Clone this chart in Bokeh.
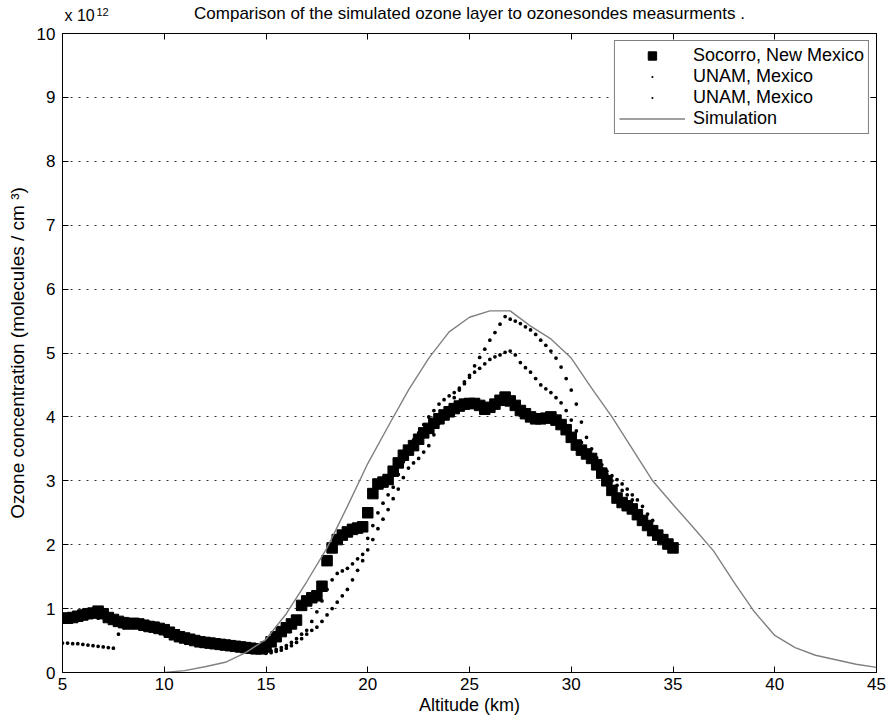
from bokeh.plotting import figure
from bokeh.layouts import column
from bokeh.models import (ColumnDataSource, LinearAxis, FixedTicker, Label,
                          Legend, LegendItem, Range1d)
from bokeh.embed import file_html
from bokeh.resources import INLINE

# ---------------- data ----------------
sim_alt = [10, 11, 12, 13, 14, 15, 16, 17, 18, 19, 20, 21, 22, 23, 24, 25, 26, 27,
           28, 29, 30, 31, 32, 33, 34, 35, 36, 37, 38, 39, 40, 41, 42, 43, 44, 45]
sim_o3 = [0.0, 0.03, 0.09, 0.16, 0.31, 0.52, 0.92, 1.42, 1.95, 2.6, 3.27, 3.85,
          4.42, 4.92, 5.33, 5.56, 5.66, 5.66, 5.42, 5.22, 4.92, 4.45, 4.0, 3.5,
          3.0, 2.63, 2.27, 1.9, 1.41, 0.95, 0.58, 0.39, 0.27, 0.2, 0.13, 0.08]

soc_alt = [5.0, 5.25, 5.5, 5.75, 6.0, 6.25, 6.5, 6.75, 7.0, 7.25, 7.5, 7.75,
           8.0, 8.25, 8.5, 8.75, 9.0, 9.25, 9.5, 9.75, 10.0, 10.25, 10.5, 10.75,
           11.0, 11.25, 11.5, 11.75, 12.0, 12.25, 12.5, 12.75, 13.0, 13.25, 13.5, 13.75,
           14.0, 14.25, 14.5, 14.75, 15.0, 15.25, 15.5, 15.75, 16.0, 16.25, 16.5, 16.75,
           17.0, 17.25, 17.5, 17.75, 18.0, 18.25, 18.5, 18.75, 19.0, 19.25, 19.5, 19.75,
           20.0, 20.25, 20.5, 20.75, 21.0, 21.25, 21.5, 21.75, 22.0, 22.25, 22.5, 22.75,
           23.0, 23.25, 23.5, 23.75, 24.0, 24.25, 24.5, 24.75, 25.0, 25.25, 25.5, 25.75,
           26.0, 26.25, 26.5, 26.75, 27.0, 27.25, 27.5, 27.75, 28.0, 28.25, 28.5, 28.75,
           29.0, 29.25, 29.5, 29.75, 30.0, 30.25, 30.5, 30.75, 31.0, 31.25, 31.5, 31.75,
           32.0, 32.25, 32.5, 32.75, 33.0, 33.25, 33.5, 33.75, 34.0, 34.25, 34.5, 34.75,
           35.0]
soc_o3 = [0.85, 0.85, 0.86, 0.88, 0.90, 0.92, 0.93, 0.96, 0.92, 0.86, 0.83, 0.80,
          0.78, 0.76, 0.77, 0.76, 0.74, 0.72, 0.71, 0.69, 0.67, 0.63, 0.59, 0.56,
          0.54, 0.52, 0.50, 0.48, 0.47, 0.46, 0.45, 0.44, 0.43, 0.42, 0.41, 0.40,
          0.39, 0.38, 0.37, 0.37, 0.40, 0.48, 0.56, 0.64, 0.70, 0.76, 0.82, 1.05,
          1.12, 1.17, 1.20, 1.35, 1.75, 1.95, 2.08, 2.15, 2.20, 2.24, 2.26, 2.28,
          2.50, 2.80, 2.95, 2.98, 3.02, 3.15, 3.28, 3.40, 3.48, 3.55, 3.65, 3.75,
          3.82, 3.90, 3.97, 4.03, 4.08, 4.13, 4.17, 4.20, 4.21, 4.21, 4.18, 4.12,
          4.15, 4.20, 4.26, 4.31, 4.25, 4.18, 4.10, 4.05, 4.00, 3.97, 3.97, 3.98,
          4.00, 3.95, 3.88, 3.80, 3.68, 3.56, 3.48, 3.42, 3.35, 3.25, 3.12, 3.00,
          2.85, 2.73, 2.66, 2.61, 2.56, 2.47, 2.38, 2.30, 2.22, 2.15, 2.08, 2.01,
          1.95]

unam1_alt = [5.0, 5.5, 6.0, 6.5, 6.75, 7.0, 7.5, 8.0, 8.5, 9.0, 9.5, 10.0, 10.5,
             11.0, 11.5, 12.0, 12.5, 13.0, 13.5, 14.0, 14.5, 15.0, 15.25, 15.5, 15.75,
             16.0, 16.25, 16.5, 16.75, 17.0, 17.25, 17.5, 17.75, 18.0, 18.25, 18.5, 18.75,
             19.0, 19.25, 19.5, 19.75, 20.0, 20.25, 20.5, 20.75, 21.0, 21.25, 21.5, 21.75,
             22.0, 22.25, 22.5, 22.75, 23.0, 23.25, 23.5, 23.75, 24.0, 24.25, 24.5, 24.75,
             25.0, 25.25, 25.5, 25.75, 26.0, 26.25, 26.5, 26.75, 27.0, 27.25, 27.5, 27.75,
             28.0, 28.25, 28.5, 28.75, 29.0, 29.25, 29.5, 29.75, 30.0, 30.25, 30.5, 30.75,
             31.0, 31.25, 31.5, 31.75, 32.0, 32.25, 32.5, 32.75, 33.0, 33.25, 33.5, 33.75,
             34.0]
unam1_o3 = [0.82, 0.83, 0.86, 0.88, 0.85, 0.88, 0.80, 0.75, 0.74, 0.72, 0.68, 0.62, 0.56,
            0.51, 0.48, 0.45, 0.43, 0.41, 0.39, 0.37, 0.35, 0.33, 0.34, 0.36, 0.39,
            0.42, 0.47, 0.53, 0.60, 0.66, 0.80, 0.95, 1.12, 1.30, 1.45, 1.55, 1.59,
            1.63, 1.70, 1.78, 1.85, 2.10, 2.30, 2.50, 2.65, 2.78, 2.90, 3.10, 3.30,
            3.50, 3.64, 3.75, 3.88, 4.00, 4.10, 4.20, 4.27, 4.33, 4.38, 4.42, 4.52,
            4.65, 4.80, 4.93, 5.06, 5.20, 5.32, 5.45, 5.57, 5.53, 5.50, 5.46, 5.41,
            5.36, 5.29, 5.20, 5.12, 5.03, 4.92, 4.78, 4.60, 4.42, 4.20, 3.92, 3.68,
            3.50, 3.36, 3.25, 3.15, 3.08, 3.02, 2.95, 2.87, 2.78, 2.70, 2.60, 2.48,
            2.38]

unam2_alt = [5.0, 5.25, 5.5, 5.75, 6.0, 6.25, 6.5, 6.75, 7.0, 7.25, 7.5, 7.75,
             8.0, 8.5, 9.0, 9.5, 10.0, 10.5, 11.0, 11.5, 12.0, 12.5, 13.0, 13.5,
             14.0, 14.5, 15.0, 15.25, 15.5, 15.75, 16.0, 16.25, 16.5, 16.75, 17.0, 17.25,
             17.5, 17.75, 18.0, 18.25, 18.5, 18.75, 19.0, 19.25, 19.5, 19.75, 20.0, 20.25,
             20.5, 20.75, 21.0, 21.25, 21.5, 21.75, 22.0, 22.25, 22.5, 22.75, 23.0, 23.25,
             23.5, 23.75, 24.0, 24.25, 24.5, 24.75, 25.0, 25.25, 25.5, 25.75, 26.0, 26.25,
             26.5, 26.75, 27.0, 27.25, 27.5, 27.75, 28.0, 28.25, 28.5, 28.75, 29.0, 29.25,
             29.5, 29.75, 30.0, 30.25, 30.5, 30.75, 31.0, 31.25, 31.5, 31.75, 32.0, 32.25,
             32.5, 32.75, 33.0]
unam2_o3 = [0.46, 0.46, 0.45, 0.45, 0.44, 0.43, 0.42, 0.41, 0.40, 0.39, 0.38, 0.60,
            0.70, 0.71, 0.70, 0.64, 0.60, 0.55, 0.50, 0.47, 0.44, 0.42, 0.40, 0.38,
            0.36, 0.34, 0.30, 0.31, 0.33, 0.35, 0.38, 0.42, 0.47, 0.53, 0.60, 0.66,
            0.71, 0.80, 0.90, 1.00, 1.10, 1.20, 1.30, 1.45, 1.60, 1.75, 1.92, 2.08,
            2.25, 2.40, 2.55, 2.72, 2.87, 3.05, 3.20, 3.28, 3.35, 3.45, 3.55, 3.72,
            3.90, 4.03, 4.15, 4.30, 4.45, 4.55, 4.62, 4.70, 4.76, 4.83, 4.90, 4.94,
            4.97, 5.01, 5.03, 4.97, 4.85, 4.77, 4.70, 4.60, 4.50, 4.44, 4.38, 4.30,
            4.22, 4.10, 3.95, 3.78, 3.60, 3.46, 3.36, 3.28, 3.20, 3.10, 3.00, 2.93,
            2.85, 2.78, 2.70]

x_ticks = [5, 10, 15, 20, 25, 30, 35, 40, 45]
y_ticks = [0, 1, 2, 3, 4, 5, 6, 7, 8, 9, 10]

series_names = ["Socorro, New Mexico", "UNAM, Mexico", "UNAM, Mexico", "Simulation"]
title_text = "Comparison of the simulated ozone layer to ozonesondes measurments ."
multiplier_base = "x 10"
multiplier_exp = "12"
x_label = "Altitude (km)"
y_label = "Ozone concentration (molecules / cm \u00b3)"

FONT = "Liberation Sans"
W = 890
H_HEAD = 23          # header strip holding title and multiplier
H_MAIN = 723 - H_HEAD
TOP_MAIN = 10        # main figure border above frame (frame top at y = 33)
LEFT, RIGHT = 62, 14
FRAME_W = W - LEFT - RIGHT

# ---------------- header (title + multiplier) ----------------
head = figure(width=W, height=H_HEAD, output_backend="svg", toolbar_location=None,
              title=None, x_range=Range1d(0, FRAME_W), y_range=Range1d(0, H_HEAD),
              x_axis_type=None, y_axis_type=None,
              min_border_left=LEFT, min_border_right=RIGHT,
              min_border_top=0, min_border_bottom=0)
head.outline_line_color = None
head.xgrid.grid_line_color = None
head.ygrid.grid_line_color = None
head.background_fill_color = "white"
head.border_fill_color = "white"

head.add_layout(Label(x=FRAME_W / 2, y=H_HEAD - 13, text=title_text,
                      text_align="center", text_baseline="middle",
                      text_font=FONT, text_font_size="17px", text_color="black"))
head.add_layout(Label(x=2, y=0, text=multiplier_base,
                      text_align="left", text_baseline="bottom",
                      text_font=FONT, text_font_size="16px", text_color="black"))
head.add_layout(Label(x=34, y=8, text=multiplier_exp,
                      text_align="left", text_baseline="bottom",
                      text_font=FONT, text_font_size="11px", text_color="black"))

# ---------------- main figure ----------------
p = figure(width=W, height=H_MAIN, output_backend="svg", toolbar_location=None,
           title=None, x_range=Range1d(5, 45), y_range=Range1d(0, 10),
           min_border_left=LEFT, min_border_right=RIGHT, min_border_top=TOP_MAIN,
           min_border_bottom=51)
p.background_fill_color = "white"
p.border_fill_color = "white"
p.outline_line_color = "black"
p.outline_line_width = 1

for ax in (p.xaxis[0], p.yaxis[0]):
    ax.major_tick_in = 6
    ax.major_tick_out = 0
    ax.minor_tick_line_color = None
    ax.axis_line_color = "black"
    ax.major_tick_line_color = "black"
    ax.major_label_text_font = FONT
    ax.major_label_text_font_size = "17px"
    ax.major_label_text_color = "black"
    ax.axis_label_text_font = FONT
    ax.axis_label_text_font_style = "normal"
    ax.axis_label_text_color = "black"

p.xaxis[0].ticker = FixedTicker(ticks=x_ticks)
p.yaxis[0].ticker = FixedTicker(ticks=y_ticks)
p.xaxis[0].axis_label = x_label
p.yaxis[0].axis_label = y_label
p.xaxis[0].axis_label_text_font_size = "18px"
p.yaxis[0].axis_label_text_font_size = "19px"
p.xaxis[0].major_label_standoff = 5
p.xaxis[0].axis_label_standoff = 2
p.yaxis[0].major_label_standoff = 7
p.yaxis[0].axis_label_standoff = 6

# mirrored axes (box with inward ticks, no labels)
top_ax = LinearAxis(ticker=FixedTicker(ticks=x_ticks), major_tick_in=6, major_tick_out=0,
                    minor_tick_line_color=None, major_label_text_font_size="0px",
                    major_label_text_color=None, major_label_standoff=0,
                    axis_line_color="black")
right_ax = LinearAxis(ticker=FixedTicker(ticks=y_ticks), major_tick_in=6, major_tick_out=0,
                      minor_tick_line_color=None, major_label_text_font_size="0px",
                      major_label_text_color=None, major_label_standoff=0,
                      axis_line_color="black")
p.add_layout(top_ax, "above")
p.add_layout(right_ax, "right")

p.xgrid.grid_line_color = None
p.ygrid.grid_line_color = "black"
p.ygrid.grid_line_dash = "2 6"
p.ygrid.grid_line_alpha = 0.8
p.ygrid.ticker = FixedTicker(ticks=y_ticks[1:-1])

# ---------------- glyphs ----------------
src_soc = ColumnDataSource(dict(x=soc_alt, y=soc_o3))
src_u1 = ColumnDataSource(dict(x=unam1_alt, y=unam1_o3))
src_u2 = ColumnDataSource(dict(x=unam2_alt, y=unam2_o3))
src_sim = ColumnDataSource(dict(x=sim_alt, y=sim_o3))

r_soc = p.scatter("x", "y", source=src_soc, marker="square", size=10.5,
                  fill_color="black", line_color="black")
r_u1 = p.scatter("x", "y", source=src_u1, marker="dot", size=15,
                 fill_color="black", line_color="black", line_width=1)
r_u2 = p.scatter("x", "y", source=src_u2, marker="dot", size=15,
                 fill_color="black", line_color="black", line_width=1)
r_sim = p.line("x", "y", source=src_sim, line_color="#808080", line_width=1.4)

legend = Legend(items=[LegendItem(label=series_names[0], renderers=[r_soc]),
                       LegendItem(label=series_names[1], renderers=[r_u1]),
                       LegendItem(label=series_names[2], renderers=[r_u2]),
                       LegendItem(label=series_names[3], renderers=[r_sim])],
                location="top_right")
legend.margin = 7
legend.padding = 4
legend.spacing = 0
legend.label_height = 21
legend.glyph_height = 21
legend.glyph_width = 66
legend.label_standoff = 8
legend.label_text_font = FONT
legend.label_text_font_size = "18px"
legend.label_text_color = "black"
legend.border_line_color = "black"
legend.border_line_width = 1
legend.background_fill_color = "white"
legend.background_fill_alpha = 1
p.add_layout(legend, "center")

page = column(head, p, spacing=0)
open("out.html", "w").write(file_html(page, INLINE))
